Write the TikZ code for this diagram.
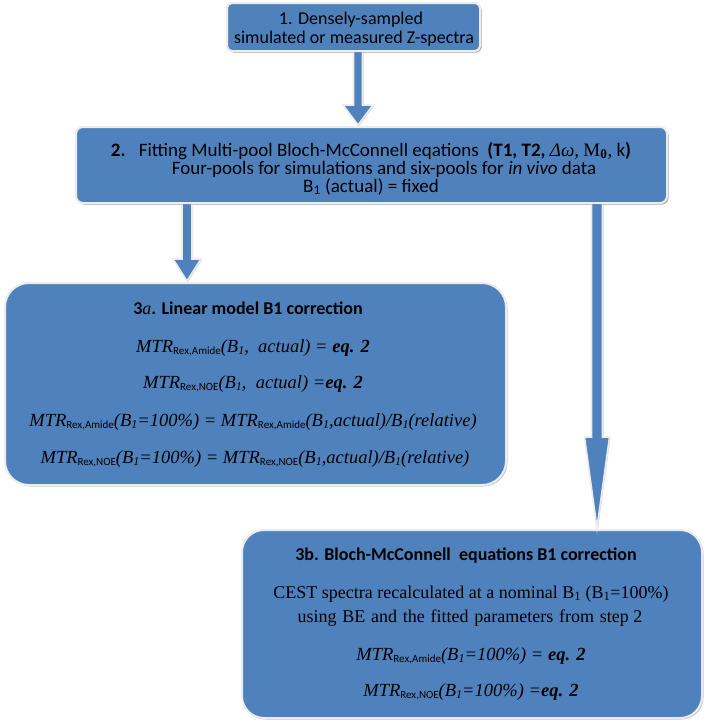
\documentclass[tikz,border=0pt]{standalone}
\usepackage{fontspec}
\setmainfont{Carlito}
\newfontfamily\eqf{Liberation Serif}
\usetikzlibrary{calc,shadows}
\definecolor{boxblue}{RGB}{79,129,189}
\definecolor{edgecol}{RGB}{236,236,236}
\newcommand\sbs[1]{\raisebox{-0.35ex}{\normalfont\fontsize{11}{11}\selectfont #1}}
\newcommand\Bone{B\raisebox{-0.35ex}{\fontsize{12}{12}\selectfont 1}}
\newcommand\ws{\hspace{0.32em}}
\newcommand\barrow[6]{%
  \path[blockarr] let \p1=(#2.south), \p2=(#3.north) in
    (#1pt-#4pt,\y1+3pt) -- (#1pt+#4pt,\y1+3pt) -- (#1pt+#4pt,\y2+#6pt)
    -- (#1pt+#5pt,\y2+#6pt) -- (#1pt,\y2+1pt) -- (#1pt-#5pt,\y2+#6pt)
    -- (#1pt-#4pt,\y2+#6pt) -- cycle;}
\begin{document}
\begin{tikzpicture}[x=1pt,y=-1pt,
  box/.style={fill=boxblue, draw=edgecol, line width=2pt,
    drop shadow={shadow xshift=1.5pt, shadow yshift=-1.5pt, opacity=0.35, fill=black!60},
    inner sep=0pt},
  blockarr/.style={fill=boxblue, draw=edgecol, line width=1.6pt, line join=miter,
    drop shadow={shadow xshift=1pt, shadow yshift=-1pt, opacity=0.3, fill=black!60}},
  txt/.style={anchor=base, inner sep=0pt, text=black, font=\fontsize{18}{20}\selectfont},
  txtb/.style={anchor=base, inner sep=0pt, text=black, font=\fontsize{19}{20}\selectfont},
  ttl/.style={anchor=base, inner sep=0pt, text=black, font=\fontsize{18}{20}\selectfont\bfseries},
  eqn/.style={anchor=base, inner sep=0pt, text=black, font=\fontsize{18.5}{20}\selectfont\eqf\itshape},
  rom/.style={anchor=base, inner sep=0pt, text=black, font=\fontsize{18}{20}\selectfont\eqf}]
\useasboundingbox (0,0) rectangle (709,728);
% boxes
\node[box, rounded corners=5pt, minimum width=253pt, minimum height=48pt] (b1) at (353.5,27) {};
\node[box, rounded corners=7pt, minimum width=591pt, minimum height=76pt] (b2) at (371.5,165) {};
\node[box, rounded corners=24pt, minimum width=501pt, minimum height=202pt] (b3a) at (255.5,384) {};
\node[box, rounded corners=22pt, minimum width=460pt, minimum height=188pt] (b3b) at (472,624) {};
% arrows
\barrow{358}{b1}{b2}{4.5}{15}{21}
\barrow{187}{b2}{b3a}{5}{14}{23}
\barrow{597}{b2}{b3b}{5.5}{12.5}{92}
% redraw upper boxes over arrow starts
\node[box, rounded corners=5pt, minimum width=253pt, minimum height=48pt] (b1f) at (353.5,27) {};
\node[box, rounded corners=7pt, minimum width=591pt, minimum height=76pt] (b2f) at (371.5,165) {};
% box 1 text
\node[txt] (t1a) at (351,24) {1. Densely-sampled};
\node[txt] (t1b) at (354,43) {simulated or measured Z-spectra};
% box 2 text
\node[txtb] (t2a) at (371,156) {\textbf{2.}\hspace{0.7em}Fitting Multi-pool Bloch-McConnell eqations\ \ \textbf{(T1, T2,} {\eqf\itshape Δω,} {\eqf M\textsubscript{\textbf{0}},}\ k\textbf{)}};
\node[txtb] (t2b) at (384,174) {Four-pools for simulations and six-pools for \textit{in vivo} data};
\node[txtb] (t2c) at (371,192) {B\textsubscript{1} (actual) = fixed};
% box 3a text
\node[ttl] (t3a) at (248,314) {3{\eqf\itshape\mdseries a}. Linear model B1 correction};
\node[eqn] (e1) at (253,352) {MTR\sbs{Rex,Amide}(\Bone,\ \ actual) = \textbf{eq. 2}};
\node[eqn] (e2) at (253,388) {MTR\sbs{Rex,NOE}(\Bone,\ \ actual) =\textbf{eq. 2}};
\node[eqn] (e3) at (253,426) {MTR\sbs{Rex,Amide}(\Bone=100\%)\ = MTR\sbs{Rex,Amide}(\Bone,actual)/\Bone(relative)};
\node[eqn] (e4) at (255,463) {MTR\sbs{Rex,NOE}(\Bone=100\%)\ = MTR\sbs{Rex,NOE}(\Bone,actual)/\Bone(relative)};
% box 3b text
\node[ttl] (t3b) at (466,560) {3b. Bloch-McConnell\ \ equations B1 correction};
\node[rom] (c1) at (471,598) {CEST spectra recalculated at a nominal B\textsubscript{1} (B\textsubscript{1}=100\%)};
\node[rom] (c2) at (470,622) {using\ws BE\ws and\ws the\ws fitted\ws parameters\ws from\ws step 2};
\node[eqn] (e5) at (471,660) {MTR\sbs{Rex,Amide}(\Bone=100\%)\ = \textbf{eq. 2}};
\node[eqn] (e6) at (471,696) {MTR\sbs{Rex,NOE}(\Bone=100\%)\ =\textbf{eq. 2}};
\end{tikzpicture}
\end{document}
